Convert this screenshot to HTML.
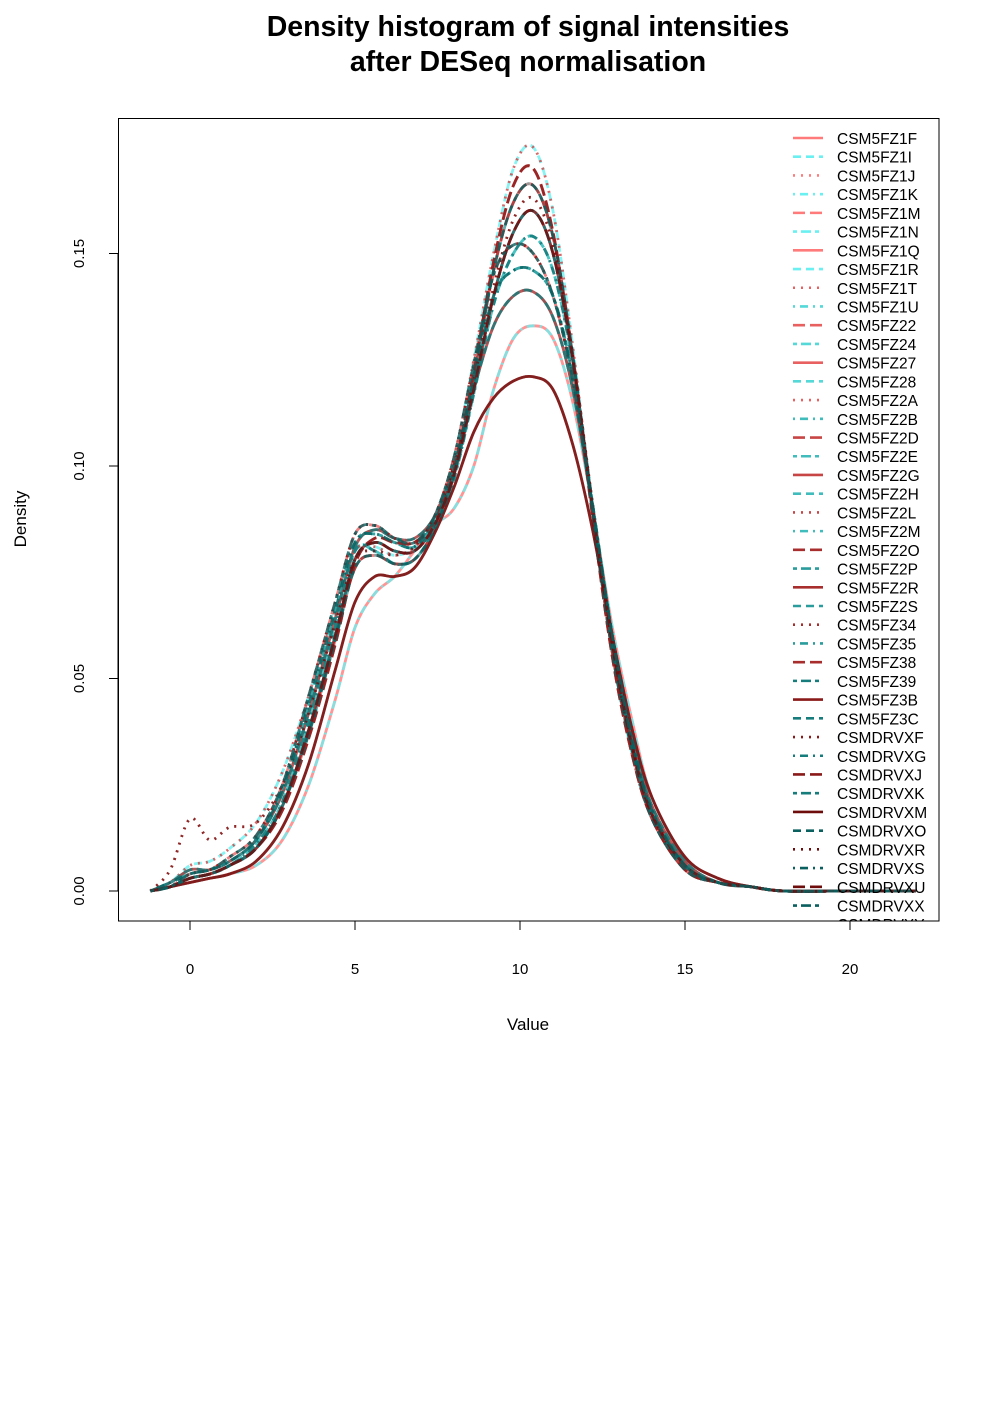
<!DOCTYPE html>
<html><head><meta charset="utf-8"><style>
html,body{margin:0;padding:0;background:#fff}
svg{display:block;font-family:"Liberation Sans",Arial,sans-serif}
</style></head><body>
<svg id="chart" width="1000" height="1414" viewBox="0 0 1000 1414">
<text x="528" y="36" text-anchor="middle" font-size="28.5" font-weight="bold">Density histogram of signal intensities</text>
<text x="528" y="71" text-anchor="middle" font-size="28.5" font-weight="bold">after DESeq normalisation</text>
<defs><clipPath id="plotclip"><rect x="118" y="118" width="821" height="803"/></clipPath></defs>
<g id="curves" clip-path="url(#plotclip)"></g>
<g id="legend" clip-path="url(#plotclip)"></g>
<rect x="118.5" y="118.5" width="820.5" height="802.5" fill="none" stroke="#000"/>
<g id="xaxis"></g>
<g id="yaxis"></g>
<text x="528" y="1030" text-anchor="middle" font-size="17">Value</text>
<text transform="translate(26,519) rotate(-90)" text-anchor="middle" font-size="17">Density</text>
</svg>
<script>
const xTicks=[0,5,10,15,20];
const yTicks=[0,0.05,0.10,0.15];
const yTickLabels=["0.00","0.05","0.10","0.15"];
const gridX=[-1.2,-0.6,0,0.6,1.2,2,2.8,3.6,4.4,5,5.6,6.2,6.8,7.4,8,8.6,9.2,9.8,10.4,11,11.6,12.2,12.8,13.4,14,15,16,17,18,20,22];
const curveA=[0,0.001,0.003,0.004,0.006,0.010,0.020,0.038,0.060,0.078,0.082,0.080,0.080,0.086,0.098,0.118,0.140,0.155,0.160,0.150,0.125,0.090,0.058,0.034,0.018,0.006,0.002,0.001,0,0,0];
const curveB=[0,0.002,0.006,0.007,0.010,0.016,0.028,0.046,0.066,0.080,0.081,0.079,0.081,0.088,0.102,0.125,0.150,0.170,0.175,0.160,0.128,0.090,0.056,0.032,0.017,0.005,0.002,0.001,0,0,0];
const curveC=[0,0.005,0.017,0.012,0.015,0.016,0.025,0.042,0.063,0.078,0.080,0.079,0.081,0.088,0.100,0.120,0.142,0.158,0.163,0.152,0.126,0.091,0.058,0.034,0.018,0.006,0.002,0.001,0,0,0];
const curveD=[0,0.001,0.002,0.003,0.004,0.007,0.015,0.030,0.052,0.068,0.074,0.074,0.076,0.084,0.095,0.108,0.116,0.120,0.121,0.118,0.105,0.085,0.060,0.038,0.022,0.008,0.003,0.001,0,0,0];
const curveE=[0,0.001,0.002,0.003,0.004,0.006,0.012,0.025,0.045,0.062,0.070,0.074,0.080,0.086,0.090,0.100,0.118,0.130,0.133,0.130,0.115,0.090,0.062,0.040,0.022,0.008,0.003,0.001,0,0,0];
const curveF=[0,0.001,0.003,0.004,0.006,0.010,0.019,0.036,0.058,0.077,0.083,0.082,0.082,0.087,0.099,0.122,0.148,0.166,0.170,0.155,0.125,0.088,0.055,0.032,0.017,0.005,0.002,0.001,0,0,0];
const curveG=[0,0.002,0.005,0.005,0.007,0.012,0.023,0.042,0.064,0.081,0.085,0.083,0.083,0.088,0.100,0.118,0.133,0.140,0.141,0.135,0.118,0.090,0.060,0.036,0.020,0.007,0.002,0.001,0,0,0];
const curveH=[0,0.001,0.004,0.005,0.008,0.013,0.025,0.046,0.068,0.084,0.086,0.083,0.082,0.088,0.102,0.124,0.145,0.152,0.150,0.140,0.120,0.090,0.060,0.035,0.019,0.006,0.002,0.001,0,0,0];
const curveI=[0,0.001,0.003,0.004,0.006,0.011,0.021,0.040,0.062,0.080,0.080,0.077,0.078,0.085,0.097,0.117,0.138,0.150,0.154,0.146,0.124,0.091,0.059,0.035,0.019,0.006,0.002,0.001,0,0,0];
const curveJ=[0,0.002,0.004,0.005,0.007,0.012,0.024,0.044,0.066,0.082,0.084,0.082,0.081,0.087,0.099,0.120,0.140,0.146,0.146,0.140,0.121,0.091,0.060,0.036,0.019,0.006,0.002,0.001,0,0,0];
const curveK=[0,0.001,0.003,0.004,0.006,0.010,0.020,0.037,0.059,0.076,0.079,0.077,0.078,0.085,0.098,0.121,0.146,0.162,0.166,0.154,0.126,0.089,0.056,0.033,0.017,0.005,0.002,0.001,0,0,0];
const sampleNames=["CSM5FZ1F","CSM5FZ1I","CSM5FZ1J","CSM5FZ1K","CSM5FZ1M","CSM5FZ1N","CSM5FZ1Q","CSM5FZ1R","CSM5FZ1T","CSM5FZ1U","CSM5FZ22","CSM5FZ24","CSM5FZ27","CSM5FZ28","CSM5FZ2A","CSM5FZ2B","CSM5FZ2D","CSM5FZ2E","CSM5FZ2G","CSM5FZ2H","CSM5FZ2L","CSM5FZ2M","CSM5FZ2O","CSM5FZ2P","CSM5FZ2R","CSM5FZ2S","CSM5FZ34","CSM5FZ35","CSM5FZ38","CSM5FZ39","CSM5FZ3B","CSM5FZ3C","CSMDRVXF","CSMDRVXG","CSMDRVXJ","CSMDRVXK","CSMDRVXM","CSMDRVXO","CSMDRVXR","CSMDRVXS","CSMDRVXU","CSMDRVXX","CSMDRVXY"];

const NS="http://www.w3.org/2000/svg";
const sx=v=>190+v*33;
const sy=v=>891-v*4250;
const dashes=["", "8,5", "2,6", "2,5,8,5", "12,5", "4,4,10,4"];
const reds=["#ff7a7a","#e86060","#c84545","#a82e2e","#8a1a1a","#6e0c0c"];
const cyans=["#6af0f0","#55d8d8","#40bcbc","#2a9c9c","#167c7c","#0a5f5f"];
function colorFor(i,n){const k=Math.min(5,Math.floor(i/n*6));return i%2===0?reds[k]:cyans[k];}
function el(t,a,p){const e=document.createElementNS(NS,t);for(const k in a)e.setAttribute(k,a[k]);p.appendChild(e);return e;}
function smoothPath(xs,ys){const P=xs.map((x,i)=>[sx(x),sy(ys[i])]);let d="M"+P[0][0]+","+P[0][1];
 for(let i=0;i<P.length-1;i++){const p0=P[Math.max(0,i-1)],p1=P[i],p2=P[i+1],p3=P[Math.min(P.length-1,i+2)];
 const c1=[p1[0]+(p2[0]-p0[0])/6,p1[1]+(p2[1]-p0[1])/6],c2=[p2[0]-(p3[0]-p1[0])/6,p2[1]-(p3[1]-p1[1])/6];
 d+=` C${c1[0].toFixed(1)},${c1[1].toFixed(1)} ${c2[0].toFixed(1)},${c2[1].toFixed(1)} ${p2[0].toFixed(1)},${p2[1].toFixed(1)}`;}return d;}

const curves=[curveE,curveB,curveC,curveE,curveF,curveG,curveK,curveI,curveA,curveJ,curveH,curveG,curveD,curveI,curveB,curveK,curveF,curveJ,curveG,curveA,curveH,curveI,curveK,curveJ,curveA,curveG,curveH,curveI,curveF,curveA,curveD,curveK,curveC,curveJ,curveA,curveH];
const cg=document.getElementById("curves");
curves.forEach((c,i)=>{
 const p=el("path",{d:smoothPath(gridX,c),fill:"none",stroke:colorFor(i,curves.length),"stroke-width":2.8,"stroke-opacity":0.8,"stroke-dasharray":dashes[i%6]},cg);
 
 
});

const lg=document.getElementById("legend");
sampleNames.forEach((n,i)=>{
 const y=138+i*18.72;
 const g=el("g",{},lg);
 
 
 el("line",{x1:793,x2:823,y1:y,y2:y,stroke:colorFor(i,sampleNames.length),"stroke-width":2.6,"stroke-dasharray":dashes[i%6]},g);
 const t=el("text",{x:837,y:y+6,"font-size":15.5},g);t.textContent=n;
});

const xa=document.getElementById("xaxis");
el("line",{x1:sx(0),x2:sx(20),y1:921,y2:921,stroke:"#000"},xa);
xTicks.forEach(v=>{const g=el("g",{},xa);
 
 
 el("line",{x1:sx(v),x2:sx(v),y1:921,y2:930,stroke:"#000"},g);
 const t=el("text",{x:sx(v),y:974,"text-anchor":"middle","font-size":15},g);t.textContent=v;});
const ya=document.getElementById("yaxis");
el("line",{x1:118,x2:118,y1:sy(0),y2:sy(0.15),stroke:"#000"},ya);
yTicks.forEach((v,i)=>{const g=el("g",{},ya);
 
 
 el("line",{x1:109,x2:118,y1:sy(v),y2:sy(v),stroke:"#000"},g);
 const t=el("text",{transform:`translate(84,${sy(v)}) rotate(-90)`,"text-anchor":"middle","font-size":15},g);t.textContent=yTickLabels[i];});
</script>
</body></html>
